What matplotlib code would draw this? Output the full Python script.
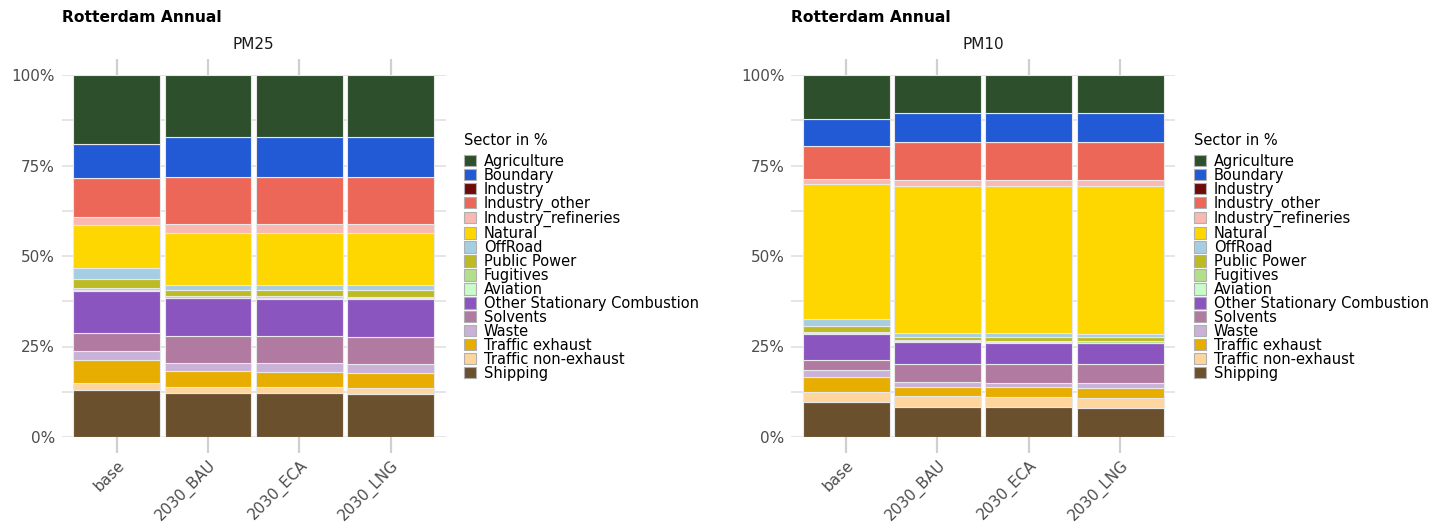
import numpy as np
import matplotlib
matplotlib.use("Agg")
import matplotlib.pyplot as plt
from matplotlib.patches import Patch

plt.rcParams['font.family'] = ['DejaVu Sans']

# ---- data -------------------------------------------------------------
scenarios = ["base", "2030_BAU", "2030_ECA", "2030_LNG"]

sectors = ["Agriculture", "Boundary", "Industry", "Industry_other",
           "Industry_refineries", "Natural", "OffRoad", "Public Power",
           "Fugitives", "Aviation", "Other Stationary Combustion",
           "Solvents", "Waste", "Traffic exhaust", "Traffic non-exhaust",
           "Shipping"]

sector_colors = ["#2d4f2b", "#225ad6", "#6e0a0a", "#ec6757", "#f9b8b0",
                 "#fed700", "#a6cee3", "#bdbb24", "#b2df8a", "#c8fcc8",
                 "#8b55c0", "#b07aa1", "#c9b1d8", "#e7ad00", "#ffd59e",
                 "#6b502d"]

# sector shares (%) per scenario, in the order of `sectors`
pm25_base = [19.1, 9.4, 0.0, 10.6, 2.3, 11.9, 3.1, 2.5, 0.4, 0.2, 11.8, 5.0, 2.3, 6.5, 1.7, 13.1]
pm25_bau  = [17.1, 11.0, 0.0, 13.0, 2.6, 14.2, 1.4, 1.8, 0.4, 0.2, 10.5, 7.3, 2.4, 4.2, 1.8, 12.1]
pm25_eca  = [17.1, 11.0, 0.0, 13.0, 2.6, 14.2, 1.4, 1.8, 0.5, 0.3, 10.2, 7.5, 2.4, 4.0, 1.8, 12.1]
pm25_lng  = [17.1, 11.0, 0.0, 13.0, 2.6, 14.3, 1.4, 1.8, 0.4, 0.3, 10.5, 7.4, 2.5, 4.2, 1.7, 11.8]

pm10_base = [12.2, 7.5, 0.0, 8.9, 1.5, 37.3, 2.0, 1.6, 0.4, 0.2, 7.2, 2.8, 1.7, 4.4, 2.5, 9.8]
pm10_bau  = [10.4, 8.2, 0.0, 10.5, 1.6, 40.7, 0.9, 1.0, 0.35, 0.2, 5.9, 5.1, 1.4, 2.5, 2.9, 8.4]
pm10_eca  = [10.4, 8.2, 0.0, 10.5, 1.6, 40.7, 0.9, 1.2, 0.35, 0.2, 5.7, 5.3, 1.3, 2.7, 2.7, 8.3]
pm10_lng  = [10.4, 8.2, 0.0, 10.5, 1.7, 40.9, 0.9, 1.0, 0.45, 0.2, 5.8, 5.2, 1.4, 2.6, 2.8, 8.1]

panels = [("PM25", [pm25_base, pm25_bau, pm25_eca, pm25_lng]),
          ("PM10", [pm10_base, pm10_bau, pm10_eca, pm10_lng])]

# ---- figure -----------------------------------------------------------
W, H = 1434, 529
fig = plt.figure(figsize=(W / 100, H / 100), dpi=100)

tick_grey = "#4d4d4d"
grid_grey = "#e0e0e0"


def px_axes(x0, x1, y_top, y_bot):
    return fig.add_axes([x0 / W, 1 - y_bot / H, (x1 - x0) / W, (y_bot - y_top) / H])


panel_x = [(61.8, 445.5), (791.3, 1175.0)]
legend_x = [464, 1194]

for (pollutant, columns), (x0, x1), lx in zip(panels, panel_x, legend_x):
    ax = px_axes(x0, x1, 75, 437)
    data = np.array(columns, dtype=float)          # scenario x sector
    shares = data / data.sum(axis=1, keepdims=True)  # stacked to 100 %
    xpos = np.arange(len(scenarios))

    # stack from the bottom: last sector at the bottom, first on top
    bottom = np.zeros(len(scenarios))
    for j in range(len(sectors) - 1, -1, -1):
        ax.bar(xpos, shares[:, j], bottom=bottom, width=0.95,
               color=sector_colors[j], edgecolor="#e8e8e8", linewidth=0.8,
               zorder=3)
        bottom += shares[:, j]

    ax.set_xlim(-0.6, len(scenarios) - 0.4)
    ax.set_ylim(0, 1)

    for yv in np.arange(0, 1.0001, 0.125):
        ax.axhline(yv, color=grid_grey, lw=1.2, zorder=1)

    for s in ax.spines.values():
        s.set_visible(False)

    ax.set_yticks([0, 0.25, 0.5, 0.75, 1.0])
    ax.set_yticklabels(["0%", "25%", "50%", "75%", "100%"])
    ax.set_xticks(xpos)
    ax.set_xticklabels(scenarios, rotation=45, ha="right", va="top",
                       rotation_mode="anchor")
    ax.tick_params(axis="y", length=0, pad=5, labelsize=11, labelcolor=tick_grey)
    ax.tick_params(axis="x", which="both", top=True, bottom=True,
                   direction="out", length=11.5, width=1.6, color="#d0d0d0",
                   labelsize=11, labelcolor=tick_grey, pad=3)

    ax.text(0.5, 1.083, pollutant, transform=ax.transAxes, ha="center",
            va="center", fontsize=11, color="#1a1a1a")

    fig.text(x0 / W, 1 - 17 / H, "Rotterdam Annual", fontsize=11.2,
             fontweight="bold", ha="left", va="center")

    handles = [Patch(facecolor=c, edgecolor="#b0b0b0", linewidth=0.8)
               for c in sector_colors]
    leg = ax.legend(handles, sectors, loc="upper left",
                    bbox_to_anchor=(lx / W, 1 - 133 / H),
                    bbox_transform=fig.transFigure, frameon=False,
                    borderpad=0, borderaxespad=0, fontsize=10.5,
                    title="Sector in %", title_fontsize=10.5,
                    alignment="left", handlelength=0.8, handleheight=0.85,
                    handletextpad=0.55, labelspacing=-0.07)
    leg._legend_box.sep = 4

fig.savefig("out.png", dpi=100, facecolor="white")
